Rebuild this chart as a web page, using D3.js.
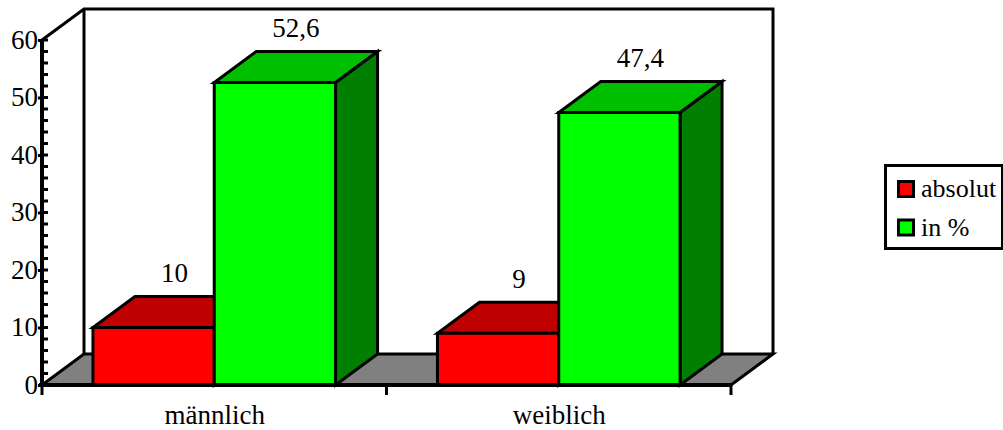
<!DOCTYPE html>
<html>
<head>
<meta charset="utf-8">
<script src="https://cdn.jsdelivr.net/npm/d3@7"></script>
<style>
html,body{margin:0;padding:0;background:#fff}
svg{display:block}
text{font-family:"Liberation Serif","Times New Roman",serif;fill:#000}
</style>
</head>
<body>
<svg id="chart" width="1003" height="430"></svg>
<script>
const categories = ["männlich", "weiblich"];
const seriesNames = ["absolut", "in %"];
const absolut = [10, 9];
const prozent = [52.6, 47.4];
const valueLabels = [["10", "9"], ["52,6", "47,4"]];
const majorTicks = [0, 10, 20, 30, 40, 50, 60];
const minorTicks = d3.range(0, 61, 2).filter(d => d % 10 !== 0);

const frontColors = ["#ff0000", "#00ff00"];
const topColors = ["#bf0000", "#00bf00"];
const sideColors = ["#7f0000", "#007f00"];

const svg = d3.select("#chart");
const depthX = 42, depthY = -31;
const plotLeft = 42, plotRight = 731, plotBottom = 385, plotTop = 40;
const stroke = 3;

const y = d3.scaleLinear().domain([0, 60]).range([plotBottom, plotTop]);
const x0 = d3.scaleBand().domain(categories).range([plotLeft, plotRight]);
const x1 = d3.scaleBand().domain([0, 1]).range([0, x0.bandwidth()]).paddingInner(0).paddingOuter(0.42);

const poly = (pts, fill, g = svg) => g.append("polygon")
  .attr("points", pts.map(p => p.join(",")).join(" "))
  .attr("fill", fill).attr("stroke", "#000").attr("stroke-width", stroke).attr("stroke-linejoin", "miter");

// floor and back wall of the box
poly([[plotLeft, plotBottom], [plotRight, plotBottom], [plotRight + depthX, plotBottom + depthY], [plotLeft + depthX, plotBottom + depthY]], "#808080");
svg.append("path")
  .attr("d", `M${plotLeft},${plotTop} L${plotLeft + depthX},${plotTop + depthY} H${plotRight + depthX} V${plotBottom + depthY} M${plotLeft + depthX},${plotTop + depthY} V${plotBottom + depthY}`)
  .attr("fill", "none").attr("stroke", "#000").attr("stroke-width", stroke);

// 3D columns, painted left to right so each one overlaps its neighbour's side
const series = [absolut, prozent];
const barsG = svg.append("g");
categories.forEach((c, i) => {
  series.forEach((vals, s) => {
    const xa = x0(c) + x1(s), xb = xa + x1.bandwidth(), yv = y(vals[i]);
    poly([[xb, plotBottom], [xb, yv], [xb + depthX, yv + depthY], [xb + depthX, plotBottom + depthY]], sideColors[s], barsG);
    poly([[xa, yv], [xb, yv], [xb + depthX, yv + depthY], [xa + depthX, yv + depthY]], topColors[s], barsG);
    poly([[xa, plotBottom], [xb, plotBottom], [xb, yv], [xa, yv]], frontColors[s], barsG);
    svg.append("text")
      .attr("x", (xa + xb) / 2 + 21)
      .attr("y", yv + depthY - 14.5)
      .attr("text-anchor", "middle").attr("font-size", 27)
      .text(valueLabels[s][i]);
  });
});

// value axis with long ticks at the tens and short ticks between them
const axisY = svg.append("g").attr("transform", `translate(${plotLeft},0)`)
  .call(d3.axisLeft(y).tickValues(majorTicks).tickSize(4).tickPadding(0).tickFormat(d3.format("d")));
axisY.selectAll("text").attr("font-size", 27).attr("font-family", null).attr("fill", "#000").attr("dy", "0.3em").attr("x", -4);
axisY.append("g").selectAll("line").data(minorTicks.concat(majorTicks)).join("line")
  .attr("x1", 0).attr("x2", 6).attr("y1", d => y(d)).attr("y2", d => y(d))
  .attr("stroke", "#000").attr("stroke-width", stroke);
axisY.selectAll(".domain").attr("stroke", "#000").attr("stroke-width", 4).attr("d", `M0,${plotTop - 1}V${plotBottom + 1}`);
axisY.selectAll(".tick line").attr("stroke", "#000").attr("stroke-width", stroke);

// category axis: ticks fall on the band edges, labels at band centres
const axisX = svg.append("g").attr("transform", `translate(0,${plotBottom})`);
axisX.append("line").attr("x1", plotLeft - 3).attr("x2", plotRight).attr("stroke", "#000").attr("stroke-width", 4);
axisX.selectAll(".sep").data([plotLeft, plotLeft + x0.step(), plotRight]).join("line").attr("class", "sep")
  .attr("x1", d => d).attr("x2", d => d).attr("y1", 0).attr("y2", 10)
  .attr("stroke", "#000").attr("stroke-width", 3);
axisX.selectAll("text").data(categories).join("text")
  .attr("x", d => x0(d) + x0.bandwidth() / 2 + 0.5)
  .attr("y", 38.5).attr("text-anchor", "middle").attr("font-size", 27)
  .text(d => d);

// legend
const legend = svg.append("g");
legend.append("rect").attr("x", 885.5).attr("y", 165.5).attr("width", 117).attr("height", 83)
  .attr("fill", "#fff").attr("stroke", "#000").attr("stroke-width", 3);
seriesNames.forEach((n, i) => {
  const ly = 181.5 + i * 38.5;
  legend.append("rect").attr("x", 898.5).attr("y", ly).attr("width", 15).attr("height", 15)
    .attr("fill", frontColors[i]).attr("stroke", "#000").attr("stroke-width", 3);
  legend.append("text").attr("x", 921).attr("y", ly + 15.5).attr("font-size", 26).text(n);
});
</script>
</body>
</html>
